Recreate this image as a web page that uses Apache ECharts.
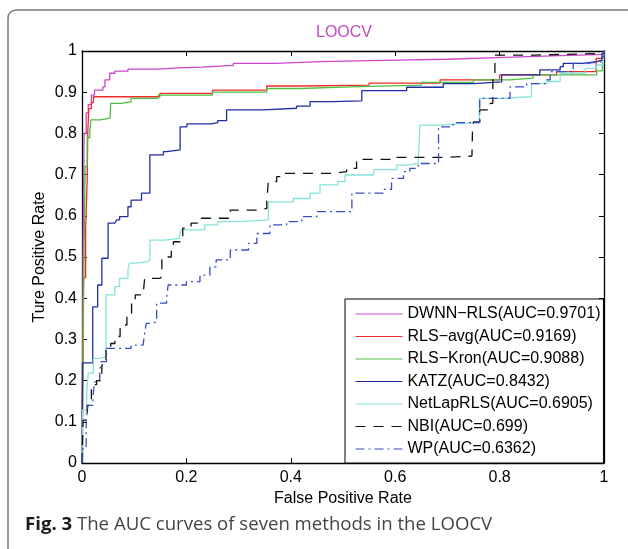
<!DOCTYPE html>
<html>
<head>
<meta charset="utf-8">
<script src="https://cdn.jsdelivr.net/npm/echarts@6/dist/echarts.min.js"></script>
<style>
html, body { margin: 0; padding: 0; background: #fff; }
#chart { width: 628px; height: 549px; }
</style>
</head>
<body>
<div id="chart"></div>
<script>
// ROC curves, points are [FPR, TPR] at each vertical jump (step: 'end')
var names = ['DWNN\u2212RLS(AUC=0.9701)', 'RLS\u2212avg(AUC=0.9169)', 'RLS\u2212Kron(AUC=0.9088)',
    'KATZ(AUC=0.8432)', 'NetLapRLS(AUC=0.6905)', 'NBI(AUC=0.699)', 'WP(AUC=0.6362)'];
var colors = ['#cc44cc', '#f02a2a', '#4cc040', '#1f2fa0', '#86e3da', '#111111', '#3a4cc4'];

var dwnn = [[0, 0], [0.002, 0.5], [0.004, 0.8], [0.008, 0.85], [0.012, 0.87], [0.018, 0.893], [0.024, 0.905],
    [0.04, 0.913], [0.044, 0.93], [0.053, 0.946], [0.063, 0.951], [0.088, 0.956], [0.146, 0.959], [0.184, 0.961],
    [0.23, 0.965], [0.29, 0.97], [0.37, 0.974], [0.456, 0.978], [0.603, 0.98], [0.7, 0.984], [0.794, 0.988],
    [0.9, 0.992], [0.999, 0.996], [1, 1]];
var rlsAvg = [[0, 0], [0.003, 0.45], [0.007, 0.57], [0.01, 0.69], [0.011, 0.8], [0.013, 0.86], [0.018, 0.875],
    [0.022, 0.889], [0.149, 0.897], [0.25, 0.905], [0.354, 0.915], [0.418, 0.917], [0.55, 0.922], [0.686, 0.93],
    [0.8, 0.942], [0.909, 0.95], [0.985, 0.982], [1, 1]];
var rlsKron = [[0, 0], [0.003, 0.4], [0.006, 0.72], [0.01, 0.79], [0.015, 0.804], [0.017, 0.833], [0.035, 0.837],
    [0.054, 0.845], [0.055, 0.873], [0.075, 0.877], [0.094, 0.885], [0.146, 0.893], [0.25, 0.9], [0.354, 0.909],
    [0.418, 0.913], [0.513, 0.917], [0.65, 0.924], [0.75, 0.93], [0.82, 0.934], [0.864, 0.942], [0.986, 0.952],
    [0.997, 0.962], [1, 1]];
var katz = [[0, 0], [0.001, 0.243], [0.0205, 0.379], [0.03, 0.432], [0.038, 0.497], [0.05, 0.582], [0.063, 0.586],
    [0.066, 0.59], [0.072, 0.598], [0.088, 0.622], [0.094, 0.638], [0.114, 0.655], [0.13, 0.748], [0.156, 0.756],
    [0.162, 0.76], [0.188, 0.816], [0.201, 0.823], [0.248, 0.826], [0.26, 0.831], [0.277, 0.857], [0.347, 0.861],
    [0.411, 0.866], [0.437, 0.877], [0.48, 0.879], [0.536, 0.904], [0.622, 0.912], [0.692, 0.921], [0.75, 0.925],
    [0.804, 0.942], [0.877, 0.954], [0.916, 0.962], [0.922, 0.97], [0.96, 0.974], [0.986, 0.978], [0.996, 0.994], [1, 1]];
var netLap = [[0, 0], [0.001, 0.129], [0.009, 0.173], [0.012, 0.218], [0.0216, 0.254], [0.035, 0.258],
    [0.046, 0.408], [0.063, 0.428], [0.072, 0.448], [0.088, 0.468], [0.091, 0.485], [0.104, 0.489], [0.126, 0.493],
    [0.13, 0.541], [0.158, 0.545], [0.187, 0.553], [0.19, 0.566], [0.235, 0.578], [0.26, 0.586], [0.3, 0.59],
    [0.357, 0.634], [0.405, 0.642], [0.437, 0.655], [0.456, 0.675], [0.49, 0.683], [0.504, 0.699], [0.558, 0.703],
    [0.56, 0.712], [0.603, 0.723], [0.622, 0.727], [0.644, 0.731], [0.6475, 0.82], [0.686, 0.823], [0.72, 0.826],
    [0.761, 0.885], [0.8, 0.889], [0.861, 0.921], [0.89, 0.926], [0.916, 0.946], [0.964, 0.958], [0.986, 0.966],
    [0.999, 0.986], [1, 1]];
var nbi = [[0, 0], [0.002, 0.104], [0.01, 0.14], [0.018, 0.19], [0.028, 0.2], [0.038, 0.238], [0.046, 0.274],
    [0.055, 0.29], [0.063, 0.307], [0.073, 0.335], [0.086, 0.363], [0.095, 0.396], [0.102, 0.408], [0.117, 0.412],
    [0.12, 0.448], [0.149, 0.452], [0.153, 0.5], [0.171, 0.525], [0.175, 0.537], [0.193, 0.57], [0.209, 0.582],
    [0.226, 0.594], [0.284, 0.614], [0.335, 0.618], [0.354, 0.638], [0.357, 0.683], [0.373, 0.695], [0.38, 0.703],
    [0.481, 0.707], [0.507, 0.715], [0.526, 0.737], [0.6, 0.742], [0.7, 0.745], [0.747, 0.748], [0.748, 0.804],
    [0.75, 0.828], [0.762, 0.857], [0.782, 0.873], [0.787, 0.93], [0.791, 0.99], [0.865, 0.994], [1, 1]];
var wp = [[0, 0], [0.002, 0.04], [0.008, 0.104], [0.0115, 0.14], [0.021, 0.161], [0.024, 0.197], [0.034, 0.226],
    [0.037, 0.246], [0.047, 0.278], [0.094, 0.286], [0.117, 0.29], [0.12, 0.315], [0.123, 0.339], [0.136, 0.343],
    [0.143, 0.388], [0.162, 0.4], [0.165, 0.432], [0.2, 0.44], [0.226, 0.456], [0.245, 0.476], [0.257, 0.493],
    [0.284, 0.517], [0.319, 0.533], [0.335, 0.557], [0.36, 0.578], [0.392, 0.586], [0.421, 0.598], [0.45, 0.61],
    [0.517, 0.655], [0.577, 0.664], [0.593, 0.691], [0.616, 0.707], [0.628, 0.715], [0.644, 0.727], [0.683, 0.816],
    [0.711, 0.826], [0.762, 0.885], [0.82, 0.913], [0.852, 0.921], [0.89, 0.93], [0.897, 0.95], [0.941, 0.97],
    [0.967, 0.974], [0.996, 0.986], [1, 1]];

var curves = [dwnn, rlsAvg, rlsKron, katz, netLap, nbi, wp];
var dashes = ['solid', 'solid', 'solid', 'solid', 'solid', [10, 8], [9, 4, 2, 4]];

var font = 'Liberation Sans, Arial, sans-serif';

function make_series(i) {
    return {
        name: names[i],
        type: 'line',
        step: 'end',
        symbol: 'none',
        data: curves[i],
        lineStyle: { color: colors[i], width: 1.3, type: dashes[i] },
        itemStyle: { color: colors[i] }
    };
}

function box_axis(pos, interval, extra) {
    var a = {
        type: 'value',
        min: 0,
        max: 1,
        interval: interval,
        position: pos,
        axisLine: { onZero: false, lineStyle: { color: '#000', width: 1.3 } },
        axisTick: { inside: true, length: 5, lineStyle: { color: '#000' } },
        axisLabel: { show: false },
        splitLine: { show: false }
    };
    for (var k in extra) a[k] = extra[k];
    return a;
}

var chart = echarts.init(document.getElementById('chart'));
chart.setOption({
    animation: false,
    backgroundColor: '#fff',
    title: {
        text: 'LOOCV',
        left: 316,
        top: 25,
        padding: 0,
        textStyle: { color: '#c04cc0', fontSize: 16, fontWeight: 'normal', fontFamily: font }
    },
    grid: { left: 82, top: 51, right: 24, bottom: 86 },
    legend: {
        data: names,
        orient: 'vertical',
        left: 345,
        top: 299,
        padding: [7, 3, 6, 10],
        itemWidth: 47,
        itemHeight: 16,
        itemGap: 6.5,
        backgroundColor: '#fff',
        borderColor: '#000',
        borderWidth: 1,
        borderRadius: 0,
        itemStyle: { opacity: 0 },
        lineStyle: { width: 1 },
        textStyle: { color: '#000', fontSize: 16, fontFamily: font }
    },
    xAxis: [
        box_axis('bottom', 0.2, {
            axisLabel: { color: '#000', fontSize: 16, fontFamily: font, margin: 7 },
            name: 'False Positive Rate',
            nameLocation: 'middle',
            nameGap: 26,
            nameTextStyle: { color: '#000', fontSize: 16, fontFamily: font }
        }),
        box_axis('top', 0.2, {})
    ],
    yAxis: [
        box_axis('left', 0.1, {
            axisLabel: { color: '#000', fontSize: 16, fontFamily: font, margin: 5 },
            name: 'Ture Positive Rate',
            nameLocation: 'middle',
            nameGap: 34,
            nameMoveOverlap: false,
            nameTextStyle: { color: '#000', fontSize: 16, fontFamily: font }
        }),
        box_axis('right', 0.1, {})
    ],
    graphic: [
        {
            type: 'rect',
            shape: { x: 8, y: 10, width: 720, height: 700, r: 8 },
            style: { fill: null, stroke: '#7a7a7a', lineWidth: 1.5 },
            silent: true,
            z: -1
        },
        {
            type: 'text',
            left: 25,
            top: 515,
            style: {
                text: '{b|Fig. 3} {r|The AUC curves of seven methods in the LOOCV}',
                rich: {
                    b: { fontFamily: 'Open Sans', fontWeight: 'bold', fontSize: 18.6, fill: '#1a1a1a' },
                    r: { fontFamily: 'Open Sans', fontSize: 18.6, fill: '#444' }
                },
                font: '18.6px Open Sans'
            }
        }
    ],
    series: names.map(function (n, i) { return make_series(i); })
});
</script>
</body>
</html>
